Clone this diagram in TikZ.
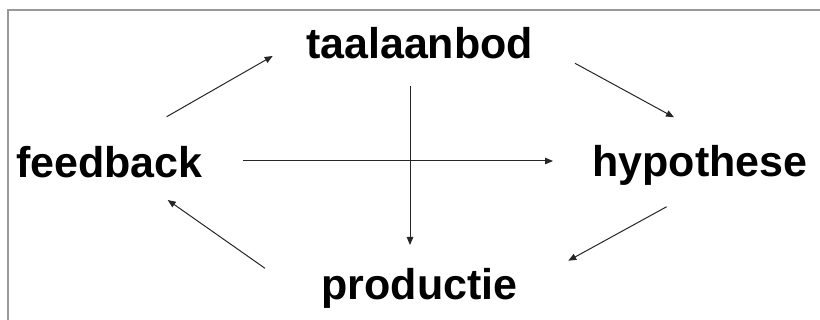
\documentclass[tikz,border=0pt]{standalone}
\usepackage{fontspec}
\setmainfont{Liberation Sans}
\usetikzlibrary{arrows.meta}
\begin{document}
\begin{tikzpicture}[x=1pt,y=-1pt,
  lbl/.style={font=\bfseries\fontsize{43}{50}\selectfont, anchor=base, inner sep=0pt},
  conn/.style={line width=1pt, draw=black!85, -{Triangle[length=8pt,width=6.5pt]}},
  frameline/.style={line width=1.2pt, draw=black!40}]
\useasboundingbox (0,0) rectangle (820,320);
\draw[frameline] (8,330) -- (8,10) -- (830,10);
\node[lbl] (ta) at (419.5,59) {taalaanbod};
\node[lbl] (fb) at (109.5,178) {feedback};
\node[lbl] (hy) at (700,177) {hypothese};
\node[lbl] (pr) at (419.5,300) {productie};
\coordinate (a1s) at (166.7,116.7); \coordinate (a1e) at (272.7,56);
\coordinate (a2s) at (575,63.3);    \coordinate (a2e) at (674,117.3);
\coordinate (a3s) at (666.7,206.7); \coordinate (a3e) at (568.3,260.7);
\coordinate (a4s) at (265,268.3);   \coordinate (a4e) at (167.7,200);
\coordinate (hs) at (243,161);      \coordinate (he) at (553,161);
\coordinate (vs) at (410,86);       \coordinate (ve) at (410,245);
\draw[conn] (a1s) -- (a1e);
\draw[conn] (a2s) -- (a2e);
\draw[conn] (a3s) -- (a3e);
\draw[conn] (a4s) -- (a4e);
\draw[conn] (hs) -- (he);
\draw[conn] (vs) -- (ve);
\end{tikzpicture}
\end{document}
